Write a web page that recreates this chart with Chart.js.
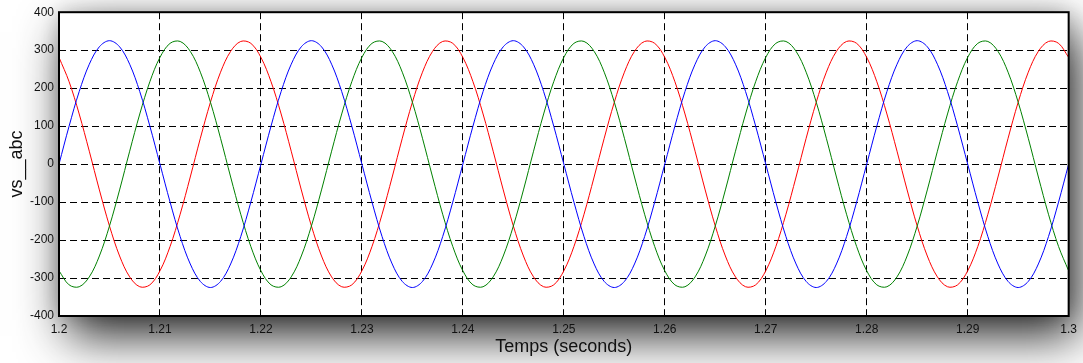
<!DOCTYPE html>
<html>
<head>
<meta charset="utf-8">
<script src="https://cdn.jsdelivr.net/npm/chart.js@4/dist/chart.umd.min.js"></script>
<style>
  html, body { margin: 0; padding: 0; background: #ffffff; }
  #wrap { width: 1083px; height: 363px; position: relative; }
</style>
</head>
<body>
<div id="wrap"><canvas id="c" width="1083" height="363"></canvas></div>
<script>
// Sample times (seconds)
const times = [
  1.200,1.201,1.202,1.203,1.204,1.205,1.206,1.207,1.208,1.209,
  1.210,1.211,1.212,1.213,1.214,1.215,1.216,1.217,1.218,1.219,
  1.220,1.221,1.222,1.223,1.224,1.225,1.226,1.227,1.228,1.229,
  1.230,1.231,1.232,1.233,1.234,1.235,1.236,1.237,1.238,1.239,
  1.240,1.241,1.242,1.243,1.244,1.245,1.246,1.247,1.248,1.249,
  1.250,1.251,1.252,1.253,1.254,1.255,1.256,1.257,1.258,1.259,
  1.260,1.261,1.262,1.263,1.264,1.265,1.266,1.267,1.268,1.269,
  1.270,1.271,1.272,1.273,1.274,1.275,1.276,1.277,1.278,1.279,
  1.280,1.281,1.282,1.283,1.284,1.285,1.286,1.287,1.288,1.289,
  1.290,1.291,1.292,1.293,1.294,1.295,1.296,1.297,1.298,1.299,
  1.300
];
// Phase a (blue)
const vsA = [
  0,100,191,263,309,325,309,263,191,100,0,-100,-191,-263,-309,-325,-309,-263,-191,-100,
  0,100,191,263,309,325,309,263,191,100,0,-100,-191,-263,-309,-325,-309,-263,-191,-100,
  0,100,191,263,309,325,309,263,191,100,0,-100,-191,-263,-309,-325,-309,-263,-191,-100,
  0,100,191,263,309,325,309,263,191,100,0,-100,-191,-263,-309,-325,-309,-263,-191,-100,
  0,100,191,263,309,325,309,263,191,100,0,-100,-191,-263,-309,-325,-309,-263,-191,-100,
  0
];
// Phase b (green)
const vsB = [
  -281,-318,-323,-297,-242,-163,-68,34,132,217,281,318,323,297,242,163,68,-34,-132,-217,
  -281,-318,-323,-297,-242,-163,-68,34,132,217,281,318,323,297,242,163,68,-34,-132,-217,
  -281,-318,-323,-297,-242,-163,-68,34,132,217,281,318,323,297,242,163,68,-34,-132,-217,
  -281,-318,-323,-297,-242,-163,-68,34,132,217,281,318,323,297,242,163,68,-34,-132,-217,
  -281,-318,-323,-297,-242,-163,-68,34,132,217,281,318,323,297,242,163,68,-34,-132,-217,
  -281
];
// Phase c (red)
const vsC = [
  281,217,132,34,-68,-163,-242,-297,-323,-318,-281,-217,-132,-34,68,163,242,297,323,318,
  281,217,132,34,-68,-163,-242,-297,-323,-318,-281,-217,-132,-34,68,163,242,297,323,318,
  281,217,132,34,-68,-163,-242,-297,-323,-318,-281,-217,-132,-34,68,163,242,297,323,318,
  281,217,132,34,-68,-163,-242,-297,-323,-318,-281,-217,-132,-34,68,163,242,297,323,318,
  281,217,132,34,-68,-163,-242,-297,-323,-318,-281,-217,-132,-34,68,163,242,297,323,318,
  281
];
const xTicks = [1.2,1.21,1.22,1.23,1.24,1.25,1.26,1.27,1.28,1.29,1.3];
const xTickLabels = ['1.2','1.21','1.22','1.23','1.24','1.25','1.26','1.27','1.28','1.29','1.3'];
const yTicks = [-400,-300,-200,-100,0,100,200,300,400];
const yTickLabels = ['-400','-300','-200','-100','0','100','200','300','400'];

const pts = arr => arr.map((v, i) => ({x: times[i], y: v}));

const frameShadow = {
  id: 'frameShadow',
  beforeDraw(chart) {
    const {ctx, chartArea: a} = chart;
    const w = a.right - a.left, h = a.bottom - a.top;
    // soft halo all around
    ctx.save();
    ctx.shadowColor = 'rgba(0,0,0,0.2)';
    ctx.shadowBlur = 20;
    ctx.fillStyle = '#ffffff';
    ctx.fillRect(a.left, a.top, w, h);
    ctx.restore();
    // main drop shadow to bottom-right
    ctx.save();
    ctx.shadowColor = 'rgba(0,0,0,0.85)';
    ctx.shadowBlur = 46;
    ctx.shadowOffsetX = 9;
    ctx.shadowOffsetY = 20;
    ctx.fillStyle = '#ffffff';
    ctx.fillRect(a.left, a.top, w, h);
    ctx.restore();
  },
  afterDraw(chart) {
    const {ctx, chartArea: a} = chart;
    ctx.save();
    ctx.strokeStyle = '#000000';
    ctx.lineWidth = 2;
    ctx.strokeRect(a.left, a.top, a.right - a.left, a.bottom - a.top);
    ctx.restore();
  }
};

const lineDs = (label, arr, color) => ({
  label, data: pts(arr), borderColor: color, backgroundColor: color,
  borderWidth: 1, pointRadius: 0, tension: 0.35, fill: false
});

const tickFont = { family: 'Liberation Sans, Arial, sans-serif', size: 12 };
const titleFont = { family: 'Liberation Sans, Arial, sans-serif', size: 18 };

new Chart(document.getElementById('c'), {
  type: 'line',
  data: {
    datasets: [
      lineDs('vs_a', vsA, '#0000ff'),
      lineDs('vs_b', vsB, '#008000'),
      lineDs('vs_c', vsC, '#ff0000')
    ]
  },
  options: {
    responsive: false,
    animation: false,
    events: [],
    layout: { padding: { left: 0, top: 10, right: 14, bottom: 0 } },
    plugins: { legend: { display: false }, tooltip: { enabled: false } },
    scales: {
      x: {
        type: 'linear', min: 1.2, max: 1.3,
        afterBuildTicks: s => { s.ticks = xTicks.map(v => ({value: v})); },
        afterFit: s => { s.height = 47; },
        ticks: {
          callback: (v, i) => xTickLabels[i],
          color: '#111', padding: 6, maxRotation: 0, autoSkip: false,
          font: tickFont
        },
        grid: { color: '#000', lineWidth: 1, drawTicks: false },
        border: { display: false, dash: [7, 4] },
        title: {
          display: true, text: 'Temps (seconds)', color: '#111',
          font: titleFont, padding: { top: 0, bottom: 5 }
        }
      },
      y: {
        type: 'linear', min: -400, max: 400,
        afterBuildTicks: s => { s.ticks = yTicks.map(v => ({value: v})); },
        afterFit: s => { s.width = 59; },
        ticks: {
          callback: (v, i) => yTickLabels[i],
          color: '#111', padding: 5, autoSkip: false,
          font: tickFont
        },
        grid: { color: '#000', lineWidth: 1, drawTicks: false },
        border: { display: false, dash: [7, 4] },
        title: {
          display: true, text: 'vs__abc', color: '#111',
          font: titleFont, padding: { top: 6, bottom: 0 }
        }
      }
    }
  },
  plugins: [frameShadow]
});
</script>
</body>
</html>
